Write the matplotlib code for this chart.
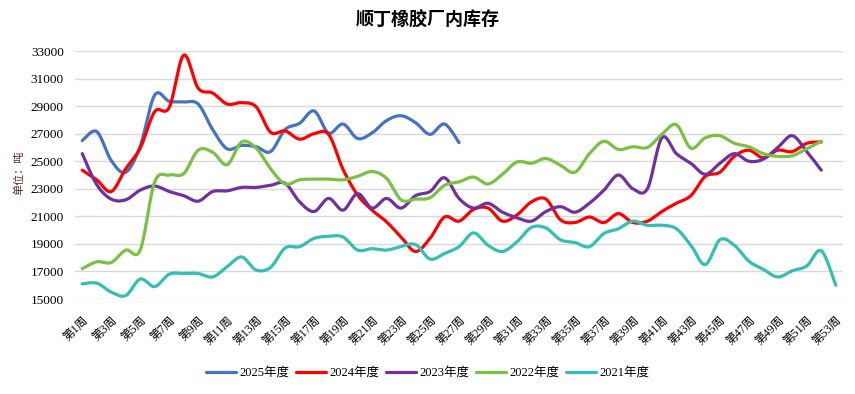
import numpy as np
import matplotlib
matplotlib.use("Agg")
import matplotlib.pyplot as plt

plt.rcParams['font.family'] = ['Liberation Serif', 'Noto Sans CJK SC']

# weekly inventory (tons)
weeks = [f"第{i}周" for i in range(1, 54)]

y2025 = [26500, 27150, 25050, 24200, 26100, 29800, 29350, 29300, 29150, 27300,
         25900, 26150, 26050, 25700, 27300, 27750, 28650, 27050, 27700, 26650,
         27050, 27950, 28300, 27800, 26950, 27700, 26350]

y2024 = [24350, 23650, 22800, 24450, 25950, 28600, 28900, 32700, 30300, 29950,
         29150, 29250, 28950, 27100, 27200, 26600, 27000, 26950, 24400, 22550,
         21450, 20600, 19500, 18450, 19400, 20950, 20650, 21500, 21600, 20650,
         21100, 22050, 22250, 20750, 20550, 20950, 20550, 21200, 20550, 20650,
         21350, 21950, 22500, 23900, 24200, 25350, 25800, 25250, 25800, 25700,
         26300, 26400]

y2023 = [25550, 23300, 22250, 22200, 22900, 23200, 22800, 22500, 22100, 22800,
         22850, 23100, 23100, 23250, 23400, 22050, 21350, 22300, 21450, 22650,
         21600, 22300, 21600, 22500, 22800, 23800, 22300, 21600, 21950, 21300,
         20900, 20650, 21350, 21700, 21300, 21950, 22900, 24000, 23000, 23000,
         26700, 25550, 24850, 24050, 24850, 25550, 25000, 25150, 26000, 26850,
         25700, 24350]

y2022 = [17200, 17700, 17650, 18550, 18550, 23500, 24000, 24100, 25800, 25650,
         24750, 26400, 25950, 24450, 23350, 23650, 23700, 23700, 23650, 23900,
         24250, 23750, 22200, 22250, 22350, 23250, 23500, 23850, 23350, 24050,
         24950, 24850, 25200, 24700, 24200, 25550, 26450, 25850, 26050, 26000,
         26950, 27650, 25950, 26700, 26850, 26300, 26050, 25550, 25350, 25400,
         25900, 26450]

y2021 = [16100, 16150, 15500, 15250, 16450, 15900, 16800, 16850, 16850, 16600,
         17350, 18050, 17100, 17300, 18700, 18800, 19400, 19550, 19500, 18550,
         18650, 18550, 18800, 18950, 17900, 18300, 18800, 19800, 18900, 18450,
         19150, 20200, 20150, 19300, 19100, 18800, 19750, 20100, 20650, 20350,
         20350, 20100, 18900, 17500, 19300, 18900, 17750, 17150, 16600, 17050,
         17400, 18500, 16000]

series = [("2025年度", y2025, "#4472C4"),
          ("2024年度", y2024, "#FF0000"),
          ("2023年度", y2023, "#7030A0"),
          ("2022年度", y2022, "#7AC143"),
          ("2021年度", y2021, "#33BFB3")]


def smooth(xs, ys, steps=16):
    """Excel-style smoothed line (Catmull-Rom as cubic Bezier)."""
    p = np.column_stack([xs, ys]).astype(float)
    p = np.vstack([p[0], p, p[-1]])
    t = np.linspace(0, 1, steps, endpoint=False)[:, None]
    out = []
    for i in range(1, len(p) - 2):
        p0, p1, p2, p3 = p[i - 1], p[i], p[i + 1], p[i + 2]
        c1 = p1 + (p2 - p0) / 6
        c2 = p2 - (p3 - p1) / 6
        seg = ((1 - t) ** 3 * p1 + 3 * (1 - t) ** 2 * t * c1
               + 3 * (1 - t) * t ** 2 * c2 + t ** 3 * p2)
        out.append(seg)
    out.append(p[-2][None, :])
    out = np.vstack(out)
    return out[:, 0], out[:, 1]


fig = plt.figure(figsize=(8.55, 3.94), dpi=100)
ax = fig.add_axes([75 / 855, 95 / 394, 768 / 855, 248 / 394])

for label, vals, color in series:
    xs = np.arange(1, len(vals) + 1)
    sx, sy = smooth(xs, vals)
    ax.plot(sx, sy, color=color, lw=2.3, label=label, solid_capstyle="round")

ax.set_xlim(0.5, 53.5)
ax.set_ylim(15000, 33000)
ax.set_yticks(range(15000, 33001, 2000))
ax.tick_params(axis="y", length=0, pad=8, labelsize=9.5)
ax.set_xticks(range(1, 54, 2))
ax.set_xticklabels(weeks[::2], rotation=45, ha="right", va="top",
                   rotation_mode="anchor", fontsize=8.5)
ax.tick_params(axis="x", length=0, pad=11)
ax.grid(axis="y", color="#D9D9D9", lw=1)
ax.set_axisbelow(True)
for s in ax.spines.values():
    s.set_visible(False)

fig.text(0.022, 1 - 173 / 394, "单位：吨", rotation=90,
         ha="center", va="center", fontsize=8, color="#5A2A2A",
         family=["Noto Sans CJK SC"])
fig.text(0.5, 1 - 20 / 394, "顺丁橡胶厂内库存", ha="center", va="center",
         fontsize=13, fontweight="bold", family=["Noto Sans CJK SC"])

fig.legend(loc="center", bbox_to_anchor=(0.5, 1 - 373 / 394), ncol=5,
           frameon=False, fontsize=9, handlelength=2.4, columnspacing=0.5,
           handletextpad=0.3)

fig.savefig("out.png", dpi=100)
